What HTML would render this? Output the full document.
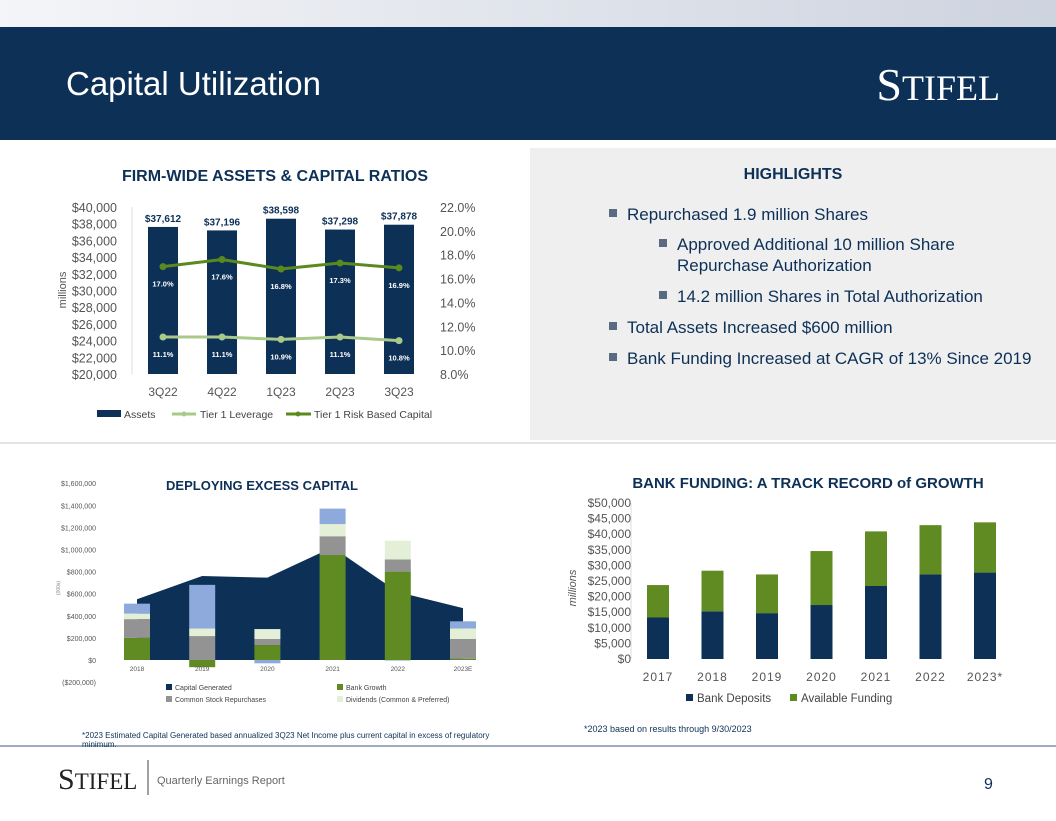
<!DOCTYPE html>
<html><head><meta charset="utf-8"><style>
body{margin:0;width:1056px;height:816px;overflow:hidden;background:#fff;font-family:"Liberation Sans",sans-serif}
svg text{font-family:"Liberation Sans",sans-serif}
</style></head><body>
<svg id="s" width="1056" height="816" viewBox="0 0 1056 816" xmlns="http://www.w3.org/2000/svg">
<defs><linearGradient id="tg" x1="0" x2="1"><stop offset="0" stop-color="#f4f5f8"/><stop offset="1" stop-color="#cdd3df"/></linearGradient></defs>
<rect x="0" y="0" width="1056" height="27" fill="url(#tg)"/>
<rect x="0" y="27" width="1056" height="113" fill="#0d3057"/>
<text x="66" y="95" font-size="33" fill="#fff">Capital Utilization</text>
<text x="1000" y="100" font-size="46" fill="#fff" text-anchor="end" font-family="Liberation Serif" style="font-family:'Liberation Serif',serif">S<tspan font-size="36">TIFEL</tspan></text>
<rect x="530" y="148" width="526" height="292" fill="#efefef"/>
<line x1="0" y1="443" x2="1056" y2="443" stroke="#c8c8c8" stroke-width="1"/>
<line x1="0" y1="746" x2="1056" y2="746" stroke="#8090a8" stroke-width="1.5"/>
<text x="275" y="181" font-size="16" font-weight="bold" fill="#0d3057" text-anchor="middle">FIRM-WIDE ASSETS &amp; CAPITAL RATIOS</text>
<text x="793" y="179" font-size="16" font-weight="bold" fill="#0d3057" text-anchor="middle">HIGHLIGHTS</text>
<g font-size="17" fill="#0d3057">
<rect x="609" y="209" width="8" height="8" fill="#5a6a80"/><text x="627" y="220">Repurchased 1.9 million Shares</text>
<rect x="659" y="239" width="8" height="8" fill="#5a6a80"/><text x="677" y="250">Approved Additional 10 million Share</text><text x="677" y="271">Repurchase Authorization</text>
<rect x="659" y="291" width="8" height="8" fill="#5a6a80"/><text x="677" y="302">14.2 million Shares in  Total Authorization</text>
<rect x="609" y="322" width="8" height="8" fill="#5a6a80"/><text x="627" y="333">Total Assets Increased $600 million</text>
<rect x="609" y="353" width="8" height="8" fill="#5a6a80"/><text x="627" y="364">Bank Funding Increased at CAGR of 13% Since 2019</text>
</g>
<text x="262" y="490" font-size="13" font-weight="bold" fill="#0d3057" text-anchor="middle">DEPLOYING EXCESS CAPITAL</text>
<text x="808" y="488" font-size="15" font-weight="bold" fill="#0d3057" text-anchor="middle">BANK FUNDING: A TRACK RECORD of GROWTH</text>
<text x="82" y="738" font-size="8" fill="#0d3057">*2023 Estimated Capital Generated based annualized 3Q23 Net Income plus current capital in excess of regulatory</text>
<text x="82" y="747" font-size="8" fill="#0d3057">minimum.</text>
<text x="584" y="732" font-size="9" fill="#0d3057">*2023 based on results through 9/30/2023</text>
<text x="58" y="789" font-size="30" fill="#222" style="font-family:'Liberation Serif',serif">S<tspan font-size="23">TIFEL</tspan></text>
<line x1="148" y1="760" x2="148" y2="795" stroke="#444"/>
<text x="157" y="784" font-size="11" fill="#666">Quarterly Earnings Report</text>
<text x="984" y="789" font-size="16" fill="#0d3057">9</text>
<g id="c1"></g><g id="c2"></g><g id="c3"></g>
</svg>
<script>
const NS="http://www.w3.org/2000/svg";
function mk(p,t,a,txt){const e=document.createElementNS(NS,t);for(const k in a)e.setAttribute(k,a[k]);if(txt!==undefined)e.textContent=txt;p.appendChild(e);return e;}
// Chart 1
const q=["3Q22","4Q22","1Q23","2Q23","3Q23"];
const assets=[37612,37196,38598,37298,37878];
const lev=[11.1,11.1,10.9,11.1,10.8];
const rbc=[17.0,17.6,16.8,17.3,16.9];
const aTicks=[20000,22000,24000,26000,28000,30000,32000,34000,36000,38000,40000];
const pTicks=[8,10,12,14,16,18,20,22];
(function(){
const g=document.getElementById('c1');
const yA=v=>374-(v-20000)/20000*167, yP=v=>374-(v-8)/14*167, x=i=>163+i*59;
aTicks.forEach(t=>{const e=mk(g,'text',{x:117,y:yA(t)+5,'font-size':12.5,fill:'#555','text-anchor':'end'},'$'+t.toLocaleString('en-US'));

});
pTicks.forEach(t=>{const e=mk(g,'text',{x:440,y:yP(t)+5,'font-size':12.5,fill:'#555'},t.toFixed(1)+'%');

});
mk(g,'line',{x1:132,y1:207,x2:132,y2:374,stroke:'#ddd'});
const yt=mk(g,'text',{transform:'translate(66,290) rotate(-90)','font-size':11,fill:'#555','text-anchor':'middle'},'millions');


q.forEach((c,i)=>{
 const b=mk(g,'rect',{x:x(i)-15,y:yA(assets[i]),width:30,height:374-yA(assets[i]),fill:'#0d3057'});
 
 
 mk(g,'text',{x:x(i),y:yA(assets[i])-5,'font-size':10,'font-weight':'bold',fill:'#0d3057','text-anchor':'middle'},'$'+assets[i].toLocaleString('en-US'));
 const l=mk(g,'text',{x:x(i),y:396,'font-size':12,fill:'#555','text-anchor':'middle'},c);
 
 
 mk(g,'text',{x:x(i),y:yP(rbc[i])+20,'font-size':7.5,'font-weight':'bold',fill:'#fff','text-anchor':'middle'},rbc[i].toFixed(1)+'%');
 mk(g,'text',{x:x(i),y:yP(lev[i])+20,'font-size':7.5,'font-weight':'bold',fill:'#fff','text-anchor':'middle'},lev[i].toFixed(1)+'%');
});
[[rbc,'#5a8a1e','tier1-rbc-line'],[lev,'#a9c98a','tier1-leverage-line']].forEach(([d,c,n])=>{
 const pl=mk(g,'polyline',{points:d.map((v,i)=>x(i)+','+yP(v)).join(' '),fill:'none',stroke:c,'stroke-width':3});
 
 
 d.forEach((v,i)=>mk(g,'circle',{cx:x(i),cy:yP(v),r:3.5,fill:c}));
});
mk(g,'rect',{x:97,y:410,width:24,height:7,fill:'#0d3057'});mk(g,'text',{x:124,y:418,'font-size':10.5,fill:'#444'},'Assets');
mk(g,'line',{x1:172,y1:414,x2:196,y2:414,stroke:'#a9c98a','stroke-width':3});mk(g,'circle',{cx:184,cy:414,r:2.5,fill:'#a9c98a'});mk(g,'text',{x:200,y:418,'font-size':10.5,fill:'#444'},'Tier 1 Leverage');
mk(g,'line',{x1:286,y1:414,x2:311,y2:414,stroke:'#5a8a1e','stroke-width':3});mk(g,'circle',{cx:298,cy:414,r:2.5,fill:'#5a8a1e'});mk(g,'text',{x:314,y:418,'font-size':10.5,fill:'#444'},'Tier 1 Risk Based Capital');
})();
// Chart 2
const yrs=["2018","2019","2020","2021","2022","2023E"];
const capGen=[550,760,745,1020,615,470];
const bankGr=[200,-65,135,950,800,10];
const repurch=[170,215,55,170,110,180];
const divs=[50,70,90,110,170,95];
const other=[90,395,-30,140,-5,65];
const dTicks=[-200,0,200,400,600,800,1000,1200,1400,1600];
(function(){
const g=document.getElementById('c2');
const y=v=>660-v/200*22.1, x=i=>137+i*65.2;
dTicks.forEach(t=>{const s=t<0?'($'+(-t*1000).toLocaleString('en-US')+')':'$'+(t*1000).toLocaleString('en-US');
const e=mk(g,'text',{x:96,y:y(t)+3,'font-size':7,fill:'#555','text-anchor':'end'},s);

});
mk(g,'text',{transform:'translate(60,588) rotate(-90)','font-size':5,fill:'#888','text-anchor':'middle'},'(000s)');
const pts=capGen.map((v,i)=>x(i)+','+y(v));
const ar=mk(g,'polygon',{points:x(0)+','+y(0)+' '+pts.join(' ')+' '+x(5)+','+y(0),fill:'#0d3057'});


const series=[[bankGr,'#5f8b22'],[repurch,'#939393'],[divs,'#e4efd8'],[other,'#8ea9db']];
yrs.forEach((c,i)=>{
 let pos=0,neg=0;
 series.forEach(([d,col])=>{const v=d[i];let y0,y1;
  if(v>=0){y0=pos;y1=pos+v;pos=y1;}else{y0=neg+v;y1=neg;neg=y0;}
  const b=mk(g,'rect',{x:x(i)-13,y:y(y1),width:26,height:y(y0)-y(y1),fill:col});
  
  });
 mk(g,'text',{x:x(i),y:671,'font-size':6.5,fill:'#555','text-anchor':'middle'},c);
});
const lg=[['#0d3057','Capital Generated',166,690],['#5f8b22','Bank Growth',337,690],['#939393','Common Stock Repurchases',166,702],['#e4efd8','Dividends (Common & Preferred)',337,702]];
lg.forEach(([c,t,lx,ly])=>{mk(g,'rect',{x:lx,y:ly-6,width:6,height:6,fill:c});mk(g,'text',{x:lx+9,y:ly,'font-size':7,fill:'#444'},t);});
})();
// Chart 3
const fy=["2017","2018","2019","2020","2021","2022","2023*"];
const deposits=[13300,15300,14700,17300,23400,27100,27700];
const totalFunding=[23700,28300,27100,34600,40900,42900,43800];
const fTicks=[0,5000,10000,15000,20000,25000,30000,35000,40000,45000,50000];
(function(){
const g=document.getElementById('c3');
const y=v=>659-v/50000*156, x=i=>658+i*54.5;
fTicks.forEach(t=>{const e=mk(g,'text',{x:631,y:y(t)+4,'font-size':12,fill:'#555','text-anchor':'end'},'$'+t.toLocaleString('en-US'));

});
mk(g,'line',{x1:631,y1:503,x2:631,y2:659,stroke:'#ddd'});
mk(g,'text',{transform:'translate(576,588) rotate(-90)','font-size':11,'font-style':'italic',fill:'#555','text-anchor':'middle'},'millions');
fy.forEach((c,i)=>{
 const b1=mk(g,'rect',{x:x(i)-11,y:y(deposits[i]),width:22,height:659-y(deposits[i]),fill:'#0d3057'});
 
 
 const b2=mk(g,'rect',{x:x(i)-11,y:y(totalFunding[i]),width:22,height:y(deposits[i])-y(totalFunding[i]),fill:'#5f8b22'});
 
 
 mk(g,'text',{x:x(i),y:681,'font-size':12,fill:'#555','text-anchor':'middle','letter-spacing':'1'},c);
});
mk(g,'rect',{x:686,y:694,width:7,height:7,fill:'#0d3057'});mk(g,'text',{x:697,y:702,'font-size':11.5,fill:'#444'},'Bank Deposits');
mk(g,'rect',{x:790,y:694,width:7,height:7,fill:'#5f8b22'});mk(g,'text',{x:801,y:702,'font-size':11.5,fill:'#444'},'Available Funding');
})();
</script>
</body></html>
